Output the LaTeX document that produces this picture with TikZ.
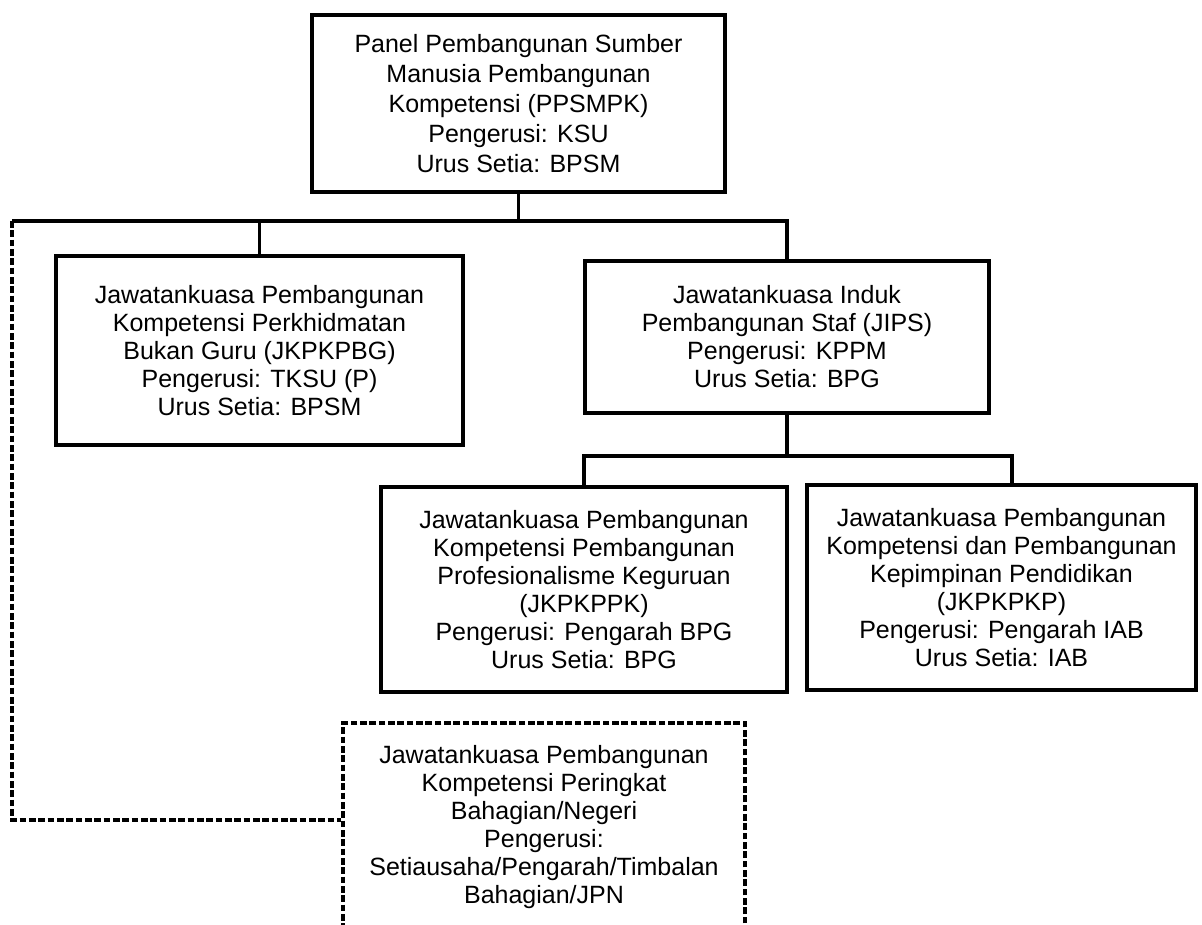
\documentclass[tikz,border=0pt]{standalone}
\usepackage{fontspec}
\setmainfont{Liberation Sans}
\usetikzlibrary{positioning}

\begin{document}
\begin{tikzpicture}[x=0.75pt, y=-0.75pt, font=\fontsize{18.75pt}{21pt}\selectfont]
		
		\useasboundingbox (0,0) rectangle (1202,924);
		
		\tikzstyle{unitBox} = [draw, rectangle, line width=2.6pt, align=center, inner sep=0pt]
		\tikzstyle{linkLine} = [line width=2.6pt]
		\tikzstyle{dashLine} = [line width=2.4pt, dash pattern=on 5pt off 2pt]
		
		% Nodes
		\node[unitBox, minimum width=309.75pt, minimum height=132.75pt, font=\fontsize{18.75pt}{22.5pt}\selectfont] (ppsmpk) at (518.5,103.5) {Panel Pembangunan Sumber\\Manusia Pembangunan\\Kompetensi (PPSMPK)\\Pengerusi: KSU\\Urus Setia: BPSM};
		\node[unitBox, minimum width=305.25pt, minimum height=141.75pt] (jkpkpbg) at (259.5,350.5) {Jawatankuasa Pembangunan\\Kompetensi Perkhidmatan\\Bukan Guru (JKPKPBG)\\Pengerusi: TKSU (P)\\Urus Setia: BPSM};
		\node[unitBox, minimum width=303pt, minimum height=114pt] (jips) at (787,337) {Jawatankuasa Induk\\Pembangunan Staf (JIPS)\\Pengerusi: KPPM\\Urus Setia: BPG};
		\node[unitBox, minimum width=304.5pt, minimum height=153.75pt] (jkpkppk) at (584,589.5) {Jawatankuasa Pembangunan\\Kompetensi Pembangunan\\Profesionalisme Keguruan\\(JKPKPPK)\\Pengerusi: Pengarah BPG\\Urus Setia: BPG};
		\node[unitBox, minimum width=291.75pt, minimum height=153.75pt] (jkpkpkp) at (1001.5,587.5) {Jawatankuasa Pembangunan\\Kompetensi dan Pembangunan\\Kepimpinan Pendidikan\\(JKPKPKP)\\Pengerusi: Pengarah IAB\\Urus Setia: IAB};
		\node[unitBox, dashLine, minimum width=301.5pt, minimum height=156.75pt] (jkpkn) at (544,827.5) {Jawatankuasa Pembangunan\\Kompetensi Peringkat\\Bahagian/Negeri\\Pengerusi:\\Setiausaha/Pengarah/Timbalan\\Bahagian/JPN};
		
		% Junctions
		\coordinate (busL) at (12,221);
		\coordinate (busR) at (jips.north |- busL);
		\coordinate (lowBus) at (0,456);
		\coordinate (lowBusR) at (1012,456);
		\coordinate (dashTurn) at (12,820);
		
		% Solid links
		\draw[linkLine] (ppsmpk.south) -- (ppsmpk.south |- busL);
		\draw[linkLine] (busL) -- (busR) -- (jips.north);
		\draw[linkLine] (jkpkpbg.north |- busL) -- (jkpkpbg.north);
		\draw[linkLine] (jips.south) -- (jips.south |- lowBus);
		\draw[linkLine] (jkpkppk.north) -- (jkpkppk.north |- lowBus) -- (lowBusR) -- (jkpkpkp.north -| lowBusR);
		
		% Dashed link
		\draw[dashLine] (busL) -- (dashTurn) -- (dashTurn -| jkpkn.west);
		
	\end{tikzpicture}
\end{document}
